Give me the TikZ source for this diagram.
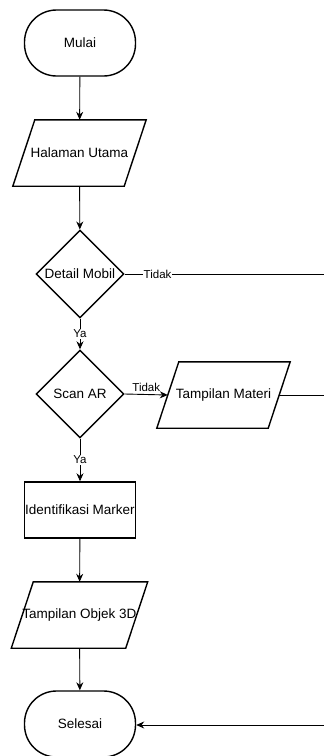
\documentclass[tikz,border=0pt]{standalone}
\usepackage{fontspec}
\setmainfont{Liberation Sans}
\usepackage{tikz}
\usetikzlibrary{shapes.geometric,arrows.meta}

\tikzset{
    terminal/.style = {draw, line width = 1.4pt, rounded corners = 32pt,
        minimum width = 111pt, minimum height = 66pt, font = \fontsize{13.5}{15}\selectfont},
    proses/.style = {draw, line width = 1.4pt, minimum width = 111pt,
        minimum height = 56pt, inner sep = 0pt, font = \fontsize{13.5}{15}\selectfont},
    keputusan/.style = {draw, diamond, line width = 1.4pt, aspect = 1,
        minimum size = 88pt, inner sep = 0pt, font = \fontsize{13.5}{15}\selectfont},
    masukan/.style = {minimum width = 111pt, minimum height = 66pt,
        inner sep = 0pt, font = \fontsize{13.5}{15}\selectfont},
    garis/.style = {line width = 0.9pt, -{Stealth[length = 8pt, width = 7pt]}},
    label/.style = {font = \fontsize{11.5}{13}\selectfont, inner sep = 1pt}
}

\begin{document}
\begin{tikzpicture}[x = 1pt, y = -1pt]

    \useasboundingbox (0,0) rectangle (324,756);

    \node[terminal] (mulai) at (80,43) {Mulai};
    \node[masukan] (halaman) at (79.5,153) {Halaman Utama};
    \node[keputusan] (detail) at (80,274) {Detail Mobil};
    \node[keputusan] (scan) at (80,394) {Scan AR};
    \node[masukan] (materi) at (223.5,395) {Tampilan Materi};
    \node[proses] (identifikasi) at (80,510) {Identifikasi Marker};
    \node[masukan] (objek) at (79.5,615) {Tampilan Objek 3D};
    \node[terminal] (selesai) at (80,724) {Selesai};

    % Jajaran genjang
    \foreach \n in {halaman, materi, objek}
        \draw[line width = 1.4pt] ([xshift = -11pt]\n.south west) -- ([xshift = -11pt]\n.south east)
            -- ([xshift = 11pt]\n.north east) -- ([xshift = 11pt]\n.north west) -- cycle;

    \coordinate (detailkanan) at (324,274);
    \coordinate (materikanan) at (324,395);
    \coordinate (selesaikanan) at (324,725);

    % Alur utama
    \draw[garis] (mulai) -- (halaman);
    \draw[garis] (halaman) -- (detail);
    \draw[garis] (detail) -- node[label, fill = white] {Ya} (scan);
    \draw[garis] (scan) -- node[label, fill = white] {Ya} (identifikasi);
    \draw[garis] (identifikasi) -- (objek);
    \draw[garis] (objek) -- (selesai);

    % Cabang Tidak
    \draw[line width = 0.9pt] (detail.east) -- node[label, fill = white, pos = 0.165] {Tidak} (detailkanan);
    \draw[garis] (scan.east) -- node[label, above, yshift = 1pt] {Tidak} (materi.west);
    \draw[line width = 0.9pt] (materi.east) -- (materikanan);
    \draw[garis] (selesaikanan) -- (selesai.east |- selesaikanan);

\end{tikzpicture}
\end{document}
